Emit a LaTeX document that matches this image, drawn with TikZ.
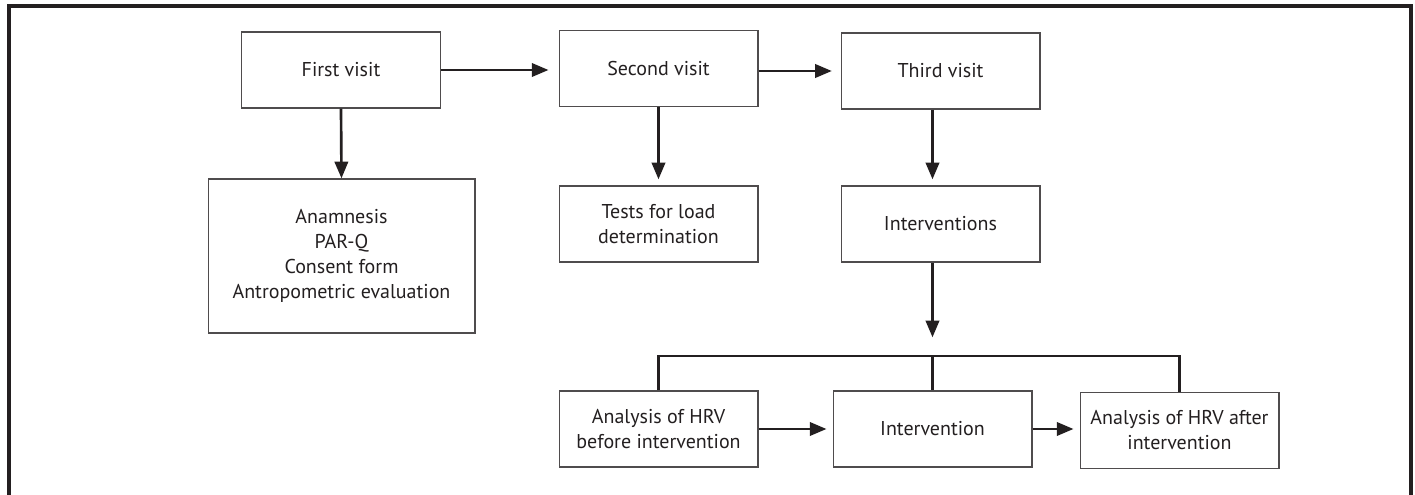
\documentclass[tikz,border=0pt]{standalone}
\usepackage{fontspec}
\setmainfont{PT Sans}
\usetikzlibrary{arrows.meta}
\definecolor{tinta}{HTML}{231F20}
\tikzset{
	caixa/.style={draw=tinta!80, line width=1pt, text=tinta, align=center,
		minimum width=149pt, minimum height=57pt, inner sep=2pt,
		font=\fontsize{15}{18.75}\selectfont},
	linha/.style={draw=tinta, line width=2pt},
	seta/.style={linha, -{Triangle[length=12.5pt, width=10pt]}, shorten >=4.5pt}
}
\begin{document}
\begin{tikzpicture}[x=0.75pt, y=-0.75pt]
\useasboundingbox (0,0) rectangle (1415,495);

% Moldura
	\draw[tinta, line width=2.3pt] (9,495) -- (9,6) -- (1411,6) -- (1411,495);

% Visitas
	\node[caixa] (v1) at (341,70) {First visit};
	\node[caixa] (v2) at (658.5,68.5) {Second visit};
	\node[caixa] (v3) at (940.5,71) {Third visit};

	\node[caixa, minimum width=200pt, minimum height=115.5pt] (anam) at (341.5,256)
		{Anamnesis\\PAR-Q\\Consent form\\Antropometric evaluation};
	\node[caixa] (testes) at (658.5,224) {Tests for load\\determination};
	\node[caixa] (interv) at (940.5,224) {Interventions};

% Intervencao
	\node[caixa] (hrvpre) at (658.5,429) {Analysis of HRV\\before intervention};
	\node[caixa] (intervencao) at (932.5,429) {Intervention};
	\node[caixa] (hrvpos) at (1179.5,430.5) {Analysis of HRV after\\intervention};

	\coordinate (barra) at (932.5,356);

% Setas
	\draw[seta, shorten >=7.5pt] (v1.east) -- (v1.east -| v2.west);
	\draw[seta, shorten >=6.5pt] (v2.east |- v3.west) -- (v3.west);
	\draw[seta, shorten >=0pt] (v1.south) -- (anam.north);
	\draw[seta] (v2.south) -- (testes.north);
	\draw[seta] (v3.south -| intervencao) -- (interv.north -| intervencao);
	\draw[seta, shorten >=14pt] (interv.south -| intervencao) -- (barra);

	\draw[linha] (hrvpre.north) |- (barra) -| (hrvpos.north);
	\draw[linha] (barra) -- (intervencao.north);

	\draw[seta] (hrvpre.east) -- (intervencao.west);
	\draw[seta] (intervencao.east) -- (intervencao.east -| hrvpos.west);
\end{tikzpicture}
\end{document}
